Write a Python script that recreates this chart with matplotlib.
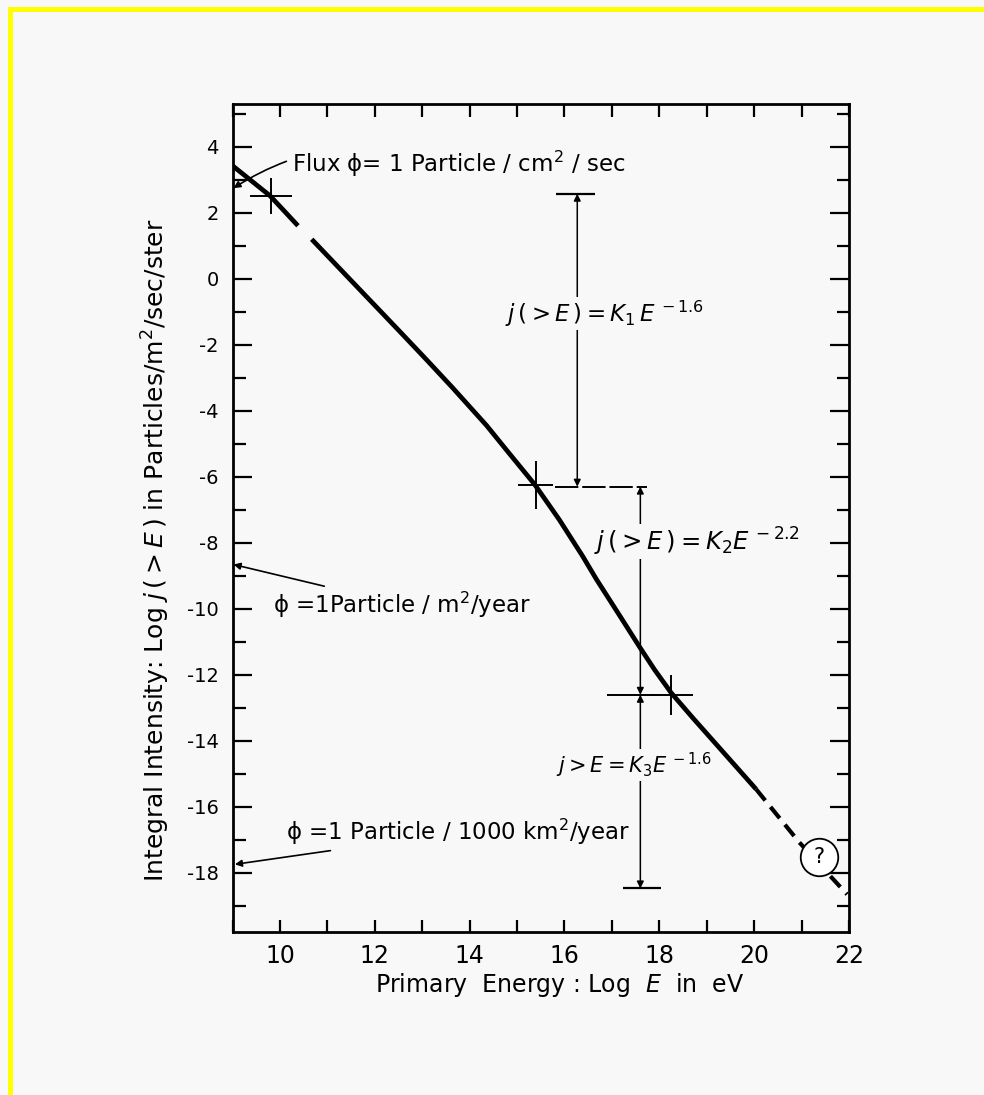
import matplotlib
matplotlib.use("Agg")
import matplotlib.pyplot as plt
from matplotlib.patches import Rectangle

# spectrum (log E in eV, log j in particles/m2/sec/ster)
curve_a_x = [9.0, 9.4, 9.79, 10.38]
curve_a_y = [3.43, 2.97, 2.52, 1.61]
curve_b_x = [10.67, 11.5, 12.53, 13.09, 13.64, 14.36, 14.84, 15.37, 15.89, 16.38, 16.67, 17.16, 17.58, 17.9,
             18.25, 18.7, 19.12, 20.04]
curve_b_y = [1.2, -0.05, -1.6, -2.45, -3.3, -4.45, -5.3, -6.23, -7.3, -8.4, -9.1, -10.2, -11.15, -11.85,
             -12.55, -13.3, -13.98, -15.47]
dash_x = [20.04, 20.95, 21.96]
dash_y = [-15.47, -17.08, -18.66]

# knee / ankle markers
cross_x = [9.81, 15.39, 18.25]
cross_y = [2.52, -6.25, -12.61]
cross_xerr = [0.44, 0.37, 0.45]
cross_yerr = [0.55, 0.72, 0.6]

# power-law ranges
range_x = [16.27, 17.6, 17.6]
range_top = [2.58, -6.3, -12.61]
range_bot = [-6.3, -12.61, -18.48]
range_labels = [r"$j\,(>E\,)=K_1\,E^{\,-1.6}$", r"$j\,(>E\,)=K_2E^{\,-2.2}$", r"$j>E=K_3E^{\,-1.6}$"]
label_x = [16.84, 18.8, 17.47]
label_y = [-1.06, -7.96, -14.74]
label_size = [16.5, 17.5, 15]

bg = "#f8f8f8"
plt.rcParams["axes.unicode_minus"] = False

fig = plt.figure(figsize=(9.84, 10.95), dpi=100, facecolor=bg)
ax = fig.add_axes([0.2363, 0.1489, 0.8628 - 0.2363, 0.905 - 0.1489], facecolor=bg)

# scan frame in yellow
fig.add_artist(Rectangle((8 / 984, 1 - 12 / 1095), 1, 5 / 1095, transform=fig.transFigure, color="#ffff00", lw=0))
fig.add_artist(Rectangle((8 / 984, 0), 5 / 984, 1 - 7 / 1095, transform=fig.transFigure, color="#ffff00", lw=0))

ax.plot(curve_a_x, curve_a_y, color="black", lw=3.4, solid_capstyle="butt")
ax.plot(curve_b_x, curve_b_y, color="black", lw=3.4, solid_capstyle="butt", solid_joinstyle="round")
ax.plot(dash_x, dash_y, color="black", lw=3.0, dashes=(3.5, 2))
ax.plot([21.37], [-17.54], marker="o", ms=27, mfc="white", mec="black", mew=1.3, zorder=5)
ax.text(21.37, -17.54, "?", ha="center", va="center", fontsize=15, zorder=6)

ax.errorbar(cross_x, cross_y, xerr=cross_xerr, yerr=cross_yerr, fmt="none", ecolor="black", elinewidth=1.4, capsize=0)

# bars at the ends of the ranges
ax.hlines([2.58, -18.48], [15.83, 17.24], [16.65, 18.04], color="black", lw=1.6)
ax.hlines(-6.3, 15.8, 17.75, color="black", lw=1.4, linestyles=(0, (12, 2)))
ax.hlines(-12.61, 16.9, 18.0, color="black", lw=1.4)

for x, y0, y1 in zip(range_x, range_top, range_bot):
    ax.annotate("", xy=(x, y0), xytext=(x, y1),
                arrowprops=dict(arrowstyle="<|-|>", lw=1.1, color="black", mutation_scale=10,
                                shrinkA=0, shrinkB=0))
for x, y, s, fs in zip(label_x, label_y, range_labels, label_size):
    ax.text(x, y, s, ha="center", va="center", fontsize=fs, zorder=4,
            bbox=dict(facecolor=bg, edgecolor="none", pad=1))

# flux annotations
ax.annotate("Flux ϕ= 1 Particle / cm$^2$ / sec", xy=(9.02, 2.75), xytext=(10.25, 3.49),
            fontsize=16.5, va="center", ha="left",
            arrowprops=dict(arrowstyle="-|>", lw=1.2, color="black", connectionstyle="arc3,rad=0.25",
                            shrinkA=2, shrinkB=0, mutation_scale=10))
ax.annotate("ϕ =1Particle / m$^2$/year", xy=(9.02, -8.66), xytext=(9.85, -9.88),
            fontsize=16.5, va="center", ha="left",
            arrowprops=dict(arrowstyle="-|>", lw=1.2, color="black", shrinkA=2, shrinkB=0, mutation_scale=10))
ax.annotate("ϕ =1 Particle / 1000 km$^2$/year", xy=(9.05, -17.75), xytext=(10.12, -16.78),
            fontsize=16.5, va="center", ha="left",
            arrowprops=dict(arrowstyle="-|>", lw=1.2, color="black", shrinkA=2, shrinkB=0, mutation_scale=10))

ax.set_xlim(9, 22)
ax.set_ylim(-19.8, 5.3)
ax.set_xticks(range(10, 23, 2))
ax.set_xticks(range(9, 23), minor=True)
ax.set_yticks(range(-18, 5, 2))
ax.set_yticks(range(-19, 6), minor=True)
ax.tick_params(axis="both", which="both", direction="in", top=True, right=True, width=1.6, colors="black")
ax.tick_params(axis="x", which="both", length=9, pad=9, labelsize=17)
ax.tick_params(axis="y", which="major", length=14, pad=10, labelsize=14)
ax.tick_params(axis="y", which="minor", length=9)
for sp in ax.spines.values():
    sp.set_linewidth(2)

ax.set_xlabel("Primary  Energy : Log  $E$  in  eV", fontsize=17)
ax.xaxis.set_label_coords(0.53, -0.047)
ax.set_ylabel("Integral Intensity: Log $j\\,(>E\\,)$ in Particles/m$^2$/sec/ster", fontsize=18)
ax.yaxis.set_label_coords(-0.098, 0.461)

fig.savefig("out.png", dpi=100, facecolor=bg)
